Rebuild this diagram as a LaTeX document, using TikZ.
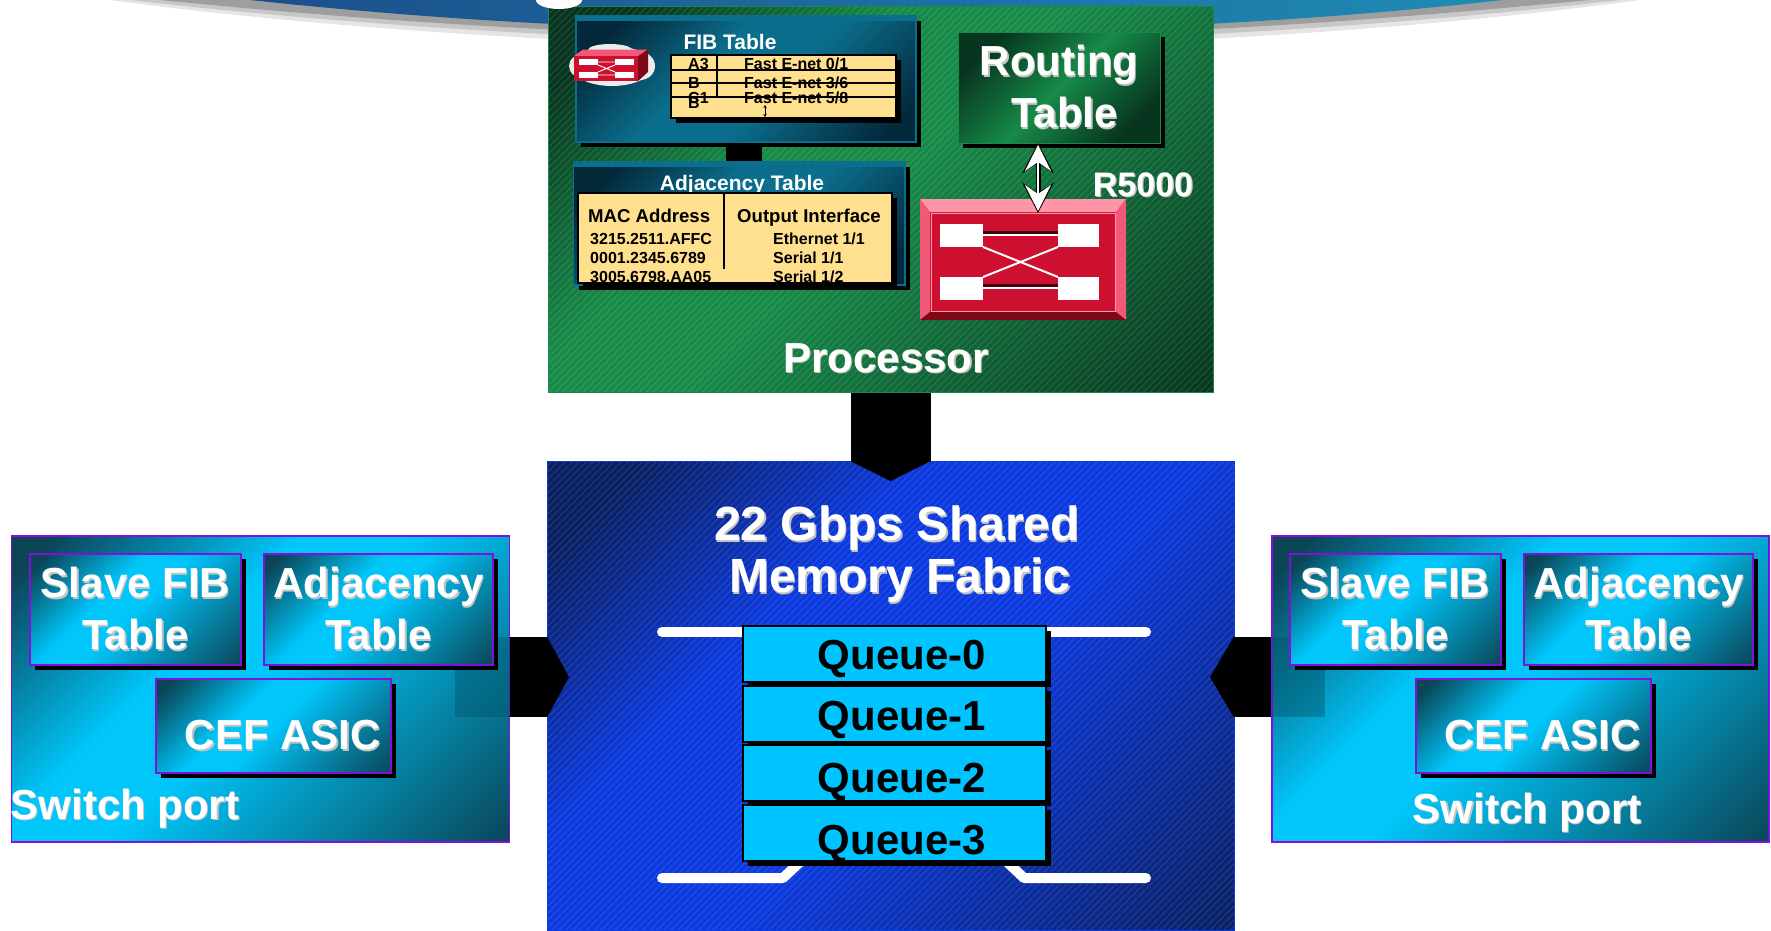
\documentclass[tikz,border=0pt]{standalone}
\usepackage{fontspec}
\setmainfont{Liberation Sans}
\usetikzlibrary{arrows.meta,shadows}
\definecolor{tealdark}{HTML}{0A4455}
\definecolor{cyanmid}{HTML}{00C6FA}
\definecolor{purpleline}{HTML}{8010E0}
\definecolor{greendark}{HTML}{07351F}
\definecolor{greenmid}{HTML}{178A48}
\definecolor{navydark}{HTML}{0A2060}
\definecolor{bluemid}{HTML}{0C3AE0}
\definecolor{panelmid}{HTML}{0B6E8C}
\definecolor{paneldark}{HTML}{03283A}
\definecolor{domeleft}{HTML}{1C4E8C}
\definecolor{domeright}{HTML}{1E8CB4}
\definecolor{tablefill}{HTML}{FFE08F}
\definecolor{queuefill}{HTML}{00C4FF}
\definecolor{switchred}{HTML}{CE1030}
\definecolor{switchpink}{HTML}{FF96A8}
\definecolor{switchrose}{HTML}{F05A78}
\definecolor{switchdark}{HTML}{7D0818}
\definecolor{textshade}{HTML}{C4C4C4}
\pgfdeclareverticalshading{portshade}{100bp}{color(0bp)=(tealdark); color(14bp)=(tealdark); color(50bp)=(cyanmid); color(60bp)=(cyanmid); color(82bp)=(tealdark); color(100bp)=(tealdark)}
\pgfdeclareverticalshading{procshade}{100bp}{color(0bp)=(greendark); color(14bp)=(greendark); color(50bp)=(greenmid); color(62bp)=(greenmid); color(80bp)=(greendark); color(100bp)=(greendark)}
\pgfdeclareverticalshading{fabricshade}{100bp}{color(0bp)=(navydark); color(14bp)=(navydark); color(46bp)=(bluemid); color(62bp)=(bluemid); color(80bp)=(navydark); color(100bp)=(navydark)}
\pgfdeclareverticalshading{panelshade}{100bp}{color(0bp)=(paneldark); color(20bp)=(paneldark); color(44bp)=(panelmid); color(58bp)=(panelmid); color(78bp)=(paneldark); color(100bp)=(paneldark)}
\newcommand{\shtext}[1]{\leavevmode\rlap{\kern1.3pt\raisebox{-1.3pt}{\color{textshade}#1}}#1}
\tikzset{
    blackshadow/.style={drop shadow={fill=black,opacity=1,shadow xshift=5pt,shadow yshift=-5pt}},
    stripes/.style={path picture={
        \foreach \s in {-1000,-993,...,1000}
            \draw[white,opacity=.12,line width=1pt,shift={(path picture bounding box.center)}] (\s-500,500) -- (\s+500,-500);
    }},
    sized/.style 2 args={minimum width=#1pt,minimum height=#2pt,inner sep=0pt},
    portbox/.style={draw=purpleline,line width=1.6pt,shading=portshade,shading angle=45},
    tablebox/.style={portbox,blackshadow},
    procbox/.style={draw=greenmid,line width=1pt,shading=procshade,shading angle=45,stripes},
    routebox/.style={draw=greenmid,line width=1pt,top color=greendark,bottom color=greendark,middle color=greenmid,shading angle=45,blackshadow},
    fabricbox/.style={draw=bluemid,line width=1pt,shading=fabricshade,shading angle=45,stripes},
    panelbox/.style={draw=panelmid,line width=1.4pt,shading=panelshade,shading angle=45,blackshadow},
    yellowbox/.style={draw=black,line width=2pt,fill=tablefill,blackshadow},
    queuebox/.style={draw=black,line width=2pt,fill=queuefill,blackshadow},
    biglabel/.style={text=white,font=\fontsize{42}{52}\selectfont\bfseries,align=center},
    titlelabel/.style={text=white,font=\fontsize{48}{52}\selectfont\bfseries,align=center},
    midlabel/.style={text=white,font=\fontsize{34}{40}\selectfont\bfseries},
    smallhead/.style={text=white,font=\fontsize{21}{24}\selectfont\bfseries},
    queuetext/.style={text=black,font=\fontsize{42}{50}\selectfont\bfseries},
    fibtext/.style={text=black,anchor=base west,inner sep=0pt,font=\fontsize{16}{18}\selectfont\bfseries},
    colhead/.style={text=black,anchor=base west,inner sep=0pt,font=\fontsize{18.6}{20}\selectfont\bfseries},
    feedline/.style={line width=80pt,draw=black},
    busline/.style={draw=white,line width=10pt,line cap=round,line join=round},
}
\begin{document}
\begin{tikzpicture}[x=1pt, y=-1pt]
    \useasboundingbox (0,0) rectangle (1771,930);
    % dome at the top
    \fill[black!10] (110,0) .. controls (300,26) and (600,48) .. (880,48) .. controls (1160,48) and (1450,26) .. (1640,0) -- cycle;
    \fill[black!22] (130,0) .. controls (320,22) and (600,43) .. (880,43) .. controls (1160,43) and (1430,22) .. (1620,0) -- cycle;
    \fill[black!38] (160,0) .. controls (340,18) and (600,38) .. (880,38) .. controls (1160,38) and (1400,18) .. (1590,0) -- cycle;
    \shade[left color=domeleft, right color=domeright] (250,0) .. controls (400,16) and (600,32) .. (880,32) .. controls (1160,32) and (1360,16) .. (1503,0) -- cycle;
    % processor
    \node[procbox, sized={665}{386}] (proc) at (880.5,199) {};
    \fill[white] (559,0) ellipse (23 and 9);
    \node[panelbox, sized={340}{126}] (fib) at (746,79) {};
    \fill[panelmid] (576,16) rectangle (916,21);
    \node[smallhead] (fibtitle) at (730,42) {FIB Table};
    % router icon in the fib panel
    \fill[black!8] (612,66) ellipse (41 and 20);
    \fill[black!8] (586,66) ellipse (17 and 13);
    \fill[black!8] (640,66) ellipse (15 and 14);
    \fill[black!8] (610,50) ellipse (22 and 6);
    \fill[switchrose] (574,56) -- (583,49.5) -- (648,49.5) -- (638,56) -- cycle;
    \fill[switchdark] (638,56) -- (648,49.5) -- (648,72) -- (638,81) -- cycle;
    \fill[switchred] (574,56) rectangle (638,81);
    \fill[white] (579,59) rectangle (598,65);
    \fill[white] (615,59) rectangle (634,65);
    \fill[white] (579,72) rectangle (598,78);
    \fill[white] (615,72) rectangle (634,78);
    \draw[white, line width=.9pt] (598,65) -- (615,72) (598,72) -- (615,65) (598,62) -- (615,62) (598,75) -- (615,75);
    % fib table
    \node[yellowbox, sized={225}{63}] (fibt) at (783.5,86.5) {};
    \node[fibtext] (fa3) at (688,69) {A3};
    \node[fibtext] (fb) at (688,88) {B};
    \node[fibtext] (fc1) at (688,103) {C1};
    \node[fibtext] (fb2) at (688,108) {B};
    \node[fibtext] (fe0) at (744,69) {Fast E-net 0/1};
    \node[fibtext] (fe3) at (744,88) {Fast E-net 3/6};
    \node[fibtext] (fe5) at (744,103) {Fast E-net 5/8};
    \draw[line width=2pt] (671,70) -- (896,70);
    \draw[line width=2pt] (671,83) -- (896,83);
    \draw[line width=2pt] (671,97) -- (896,97);
    \draw[line width=2pt] (717,55) -- (717,97);
    \draw[{Stealth[length=3pt,width=3.5pt]}-{Stealth[length=3pt,width=3.5pt]}, line width=.7pt] (765,105) -- (765,117);
    % adjacency panel
    \coordinate (fibbar) at (744,147);
    \node[panelbox, sized={331.5}{123}] (adj) at (739.25,223.5) {};
    \draw[line width=36pt] (fibbar) -- (fibbar |- adj.north);
    \fill[panelmid] (573.5,162) rectangle (905,167);
    \node[smallhead] (adjtitle) at (742,185) {Adjacency Table};
    \node[yellowbox, sized={314}{90}] (adjt) at (735,238) {};
    \draw[line width=2pt] (723.5,193) -- (723.5,269);
    \node[colhead] (mac) at (588,222) {MAC Address};
    \node[colhead] (outif) at (737,222) {Output Interface};
    \node[fibtext] (m1) at (590,244) {3215.2511.AFFC};
    \node[fibtext] (m2) at (590,263) {0001.2345.6789};
    \node[fibtext] (m3) at (590,282) {3005.6798.AA05};
    \node[fibtext] (s1) at (773,244) {Ethernet 1/1};
    \node[fibtext] (s2) at (773,263) {Serial 1/1};
    \node[fibtext] (s3) at (773,282) {Serial 1/2};
    % routing table and r5000
    \node[routebox, sized={202}{111}, biglabel] (route) at (1059,87.5) {\shtext{Routing}\\\hspace{11pt}\shtext{Table}};
    \node[sized={206}{121}, fill=switchred] (rsw) at (1023,259.5) {};
    \fill[switchpink] (920,199) -- (1126,199) -- (1116,212) -- (930,212) -- cycle;
    \fill[switchrose] (920,199) -- (930,212) -- (930,312) -- (920,320) -- cycle;
    \fill[switchrose] (1126,199) -- (1116,212) -- (1116,312) -- (1126,320) -- cycle;
    \fill[switchdark] (920,320) -- (930,312) -- (1116,312) -- (1126,320) -- cycle;
    \draw[switchpink, line width=.8pt] (931,213) rectangle (1115,311);
    \draw[black!70!switchred, line width=4pt] (983,233) -- (1058,233);
    \draw[black!70!switchred, line width=4pt] (983,286) -- (1058,286);
    \draw[white, line width=2pt] (983,235) -- (1058,235);
    \draw[white, line width=2pt] (983,288) -- (1058,288);
    \draw[white, line width=2pt] (983,247) -- (1058,277);
    \draw[white, line width=2pt] (983,277) -- (1058,247);
    \fill[white] (940,224) rectangle (983,247);
    \fill[white] (1058,224) rectangle (1099,247);
    \fill[white] (940,277) rectangle (983,300);
    \fill[white] (1058,277) rectangle (1099,300);
    \coordinate (arrtop) at (1038,143);
    \coordinate (arrbot) at (1038,213);
    \draw[line width=5pt, black, {Stealth[length=30pt,width=31pt,inset=10pt]}-{Stealth[length=30pt,width=31pt,inset=10pt]}] (arrtop) -- (arrbot);
    \draw[line width=2.6pt, white, {Stealth[length=26pt,width=26pt,inset=9pt]}-{Stealth[length=26pt,width=26pt,inset=9pt]}] (1038,145) -- (1038,211);
    \node[midlabel] (r5k) at (1143,185) {\shtext{R5000}};
    \node[biglabel] (proctext) at (886,359) {\shtext{Processor}};
    % fabric in the middle
    \node[fabricbox, sized={687}{469}] (fabric) at (890.5,695.5) {};
    \coordinate (fabtip) at (890.5,481);
    \draw[feedline, -{Triangle[length=20pt,width=80pt]}] (fabtip |- proc.south) -- (fabtip);
    \node[titlelabel] (fabtext) at (897,555) {\shtext{22 Gbps Shared}\\\hspace{6pt}\shtext{Memory Fabric}};
    \draw[busline] (662,632) -- (1146,632);
    \draw[busline] (662,878) -- (783,878) -- (800,862);
    \draw[busline] (1146,878) -- (1024,878) -- (1007,862);
    \node[queuebox, sized={303}{56}] (q0) at (894,654) {};
    \node[queuebox, sized={303}{56}] (q1) at (894,714) {};
    \node[queuebox, sized={303}{56}] (q2) at (894,773) {};
    \node[queuebox, sized={303}{56}] (q3) at (894,833) {};
    \node[queuetext] (q0text) at (902,659) {Queue-0};
    \node[queuetext] (q1text) at (902,720) {Queue-1};
    \node[queuetext] (q2text) at (902,782) {Queue-2};
    \node[queuetext] (q3text) at (902,844) {Queue-3};
    % left switch port
    \node[portbox, sized={498}{306}] (lport) at (260.5,689) {};
    \fill[black!60!cyanmid, opacity=.4] (455,637) rectangle (510,717);
    \coordinate (ltip) at (569,677);
    \draw[feedline, -{Triangle[length=22pt,width=80pt]}] (lport.east |- ltip) -- (ltip);
    \node[tablebox, sized={211}{111}, biglabel] (lfib) at (135.5,609.5) {\shtext{Slave FIB}\\\shtext{Table}};
    \node[tablebox, sized={229}{111}, biglabel] (ladj) at (378.5,609.5) {\shtext{Adjacency}\\\shtext{Table}};
    \node[tablebox, sized={235}{94}] (lcef) at (273.5,726) {};
    \node[biglabel] (lceftext) at (283,736) {\shtext{CEF ASIC}};
    \node[biglabel] (lporttext) at (125,809) {\shtext{Switch port}};
    % right switch port
    \node[portbox, sized={497}{306}] (rport) at (1520.5,689) {};
    \fill[black!60!cyanmid, opacity=.4] (1272,637) rectangle (1325,717);
    \coordinate (rtip) at (1210,677);
    \draw[feedline, -{Triangle[length=24pt,width=80pt]}] (rport.west |- rtip) -- (rtip);
    \node[tablebox, sized={211}{111}, biglabel] (rfib) at (1395.5,609.5) {\shtext{Slave FIB}\\\shtext{Table}};
    \node[tablebox, sized={229}{111}, biglabel] (radj) at (1638.5,609.5) {\shtext{Adjacency}\\\shtext{Table}};
    \node[tablebox, sized={235}{94}] (rcef) at (1533.5,726) {};
    \node[biglabel] (rceftext) at (1542.5,736) {\shtext{CEF ASIC}};
    \node[biglabel] (rporttext) at (1527,813) {\shtext{Switch port}};
\end{tikzpicture}
\end{document}
